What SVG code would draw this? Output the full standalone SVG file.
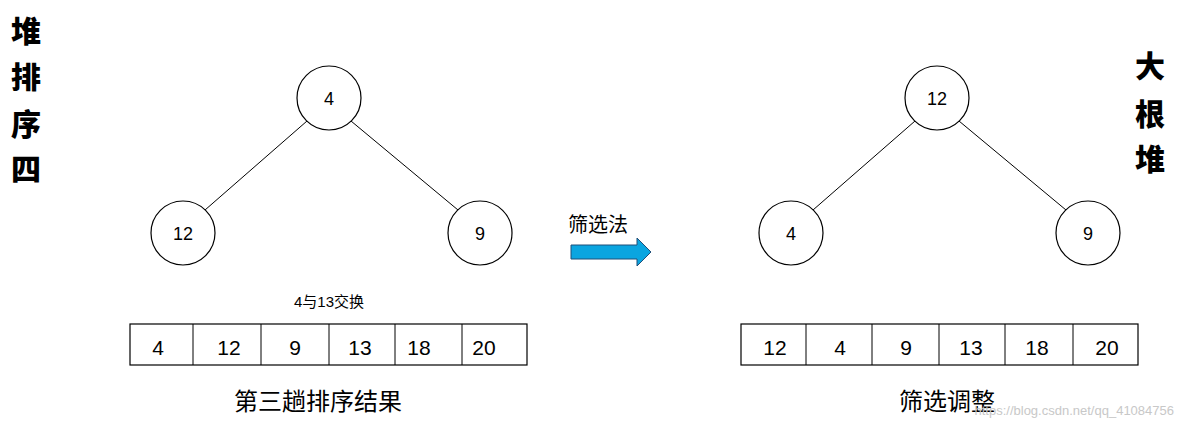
<svg xmlns="http://www.w3.org/2000/svg" width="1183" height="428" viewBox="0 0 1183 428">
<style>
.n{fill:#fff;stroke:#000;stroke-width:1.2}
.t{font-family:"Liberation Sans","Noto Sans CJK SC",sans-serif;fill:#000;text-anchor:middle}
.c{font-family:"Noto Sans CJK SC",sans-serif;font-weight:900;font-size:30px;text-anchor:middle;fill:#000}
.e{stroke:#000;stroke-width:1;fill:none}
.b{fill:#fff;stroke:#000;stroke-width:1.2}
</style>
<rect width="1183" height="428" fill="#fff"/>
<g id="title-left"><text class="c" x="26" y="42">堆</text><text class="c" x="26" y="88">排</text><text class="c" x="26" y="135">序</text><text class="c" x="26" y="180">四</text></g>
<g id="title-right"><text class="c" x="1150" y="77">大</text><text class="c" x="1150" y="125">根</text><text class="c" x="1150" y="170">堆</text></g>
<g id="connectors">
<line class="e" x1="307" y1="121" x2="205" y2="210"/>
<line class="e" x1="351" y1="121" x2="458" y2="210"/>
<line class="e" x1="915" y1="121" x2="813" y2="210"/>
<line class="e" x1="959" y1="121" x2="1066" y2="210"/>
</g>
<g id="L4"><circle class="n" cx="329" cy="98" r="32"/><text class="t" x="329" y="105" font-size="18">4</text></g>
<g id="L12"><circle class="n" cx="183" cy="233" r="32"/><text class="t" x="183" y="240" font-size="18">12</text></g>
<g id="L9"><circle class="n" cx="480" cy="233" r="32"/><text class="t" x="480" y="240" font-size="18">9</text></g>
<g id="R12"><circle class="n" cx="937" cy="98" r="32"/><text class="t" x="937" y="105" font-size="18">12</text></g>
<g id="R4"><circle class="n" cx="791" cy="233" r="32"/><text class="t" x="791" y="240" font-size="18">4</text></g>
<g id="R9"><circle class="n" cx="1088" cy="233" r="32"/><text class="t" x="1088" y="240" font-size="18">9</text></g>
<g id="arrow">
<text class="t" x="598" y="232" font-size="20">筛选法</text>
<path d="M571 245 H637 V238 L651 252 L637 266 V259 H571 Z" fill="#0aa5e0" stroke="#1f4e79" stroke-width="1"/>
</g>
<g id="array-left">
<rect class="b" x="130" y="324" width="397" height="41"/>
<path class="e" d="M193 324V365M261 324V365M329 324V365M395 324V365M462 324V365"/>
<g class="t" font-size="21"><text x="158" y="355">4</text><text x="229" y="355">12</text><text x="295" y="355">9</text><text x="360" y="355">13</text><text x="419" y="355">18</text><text x="484" y="355">20</text></g>
<text class="t" x="329" y="307" font-size="15">4与13交换</text>
<text class="t" x="318" y="410" font-size="24">第三趟排序结果</text>
</g>
<g id="array-right">
<rect class="b" x="741" y="324" width="397" height="41"/>
<path class="e" d="M806 324V365M872 324V365M939 324V365M1005 324V365M1073 324V365"/>
<g class="t" font-size="21"><text x="775" y="355">12</text><text x="840" y="355">4</text><text x="906" y="355">9</text><text x="971" y="355">13</text><text x="1037" y="355">18</text><text x="1107" y="355">20</text></g>
<text class="t" x="947" y="410" font-size="24">筛选调整</text>
</g>
<text x="1174" y="415" font-family="Liberation Sans,sans-serif" font-size="13" fill="#c8c8c8" text-anchor="end">https://blog.csdn.net/qq_41084756</text>
</svg>
